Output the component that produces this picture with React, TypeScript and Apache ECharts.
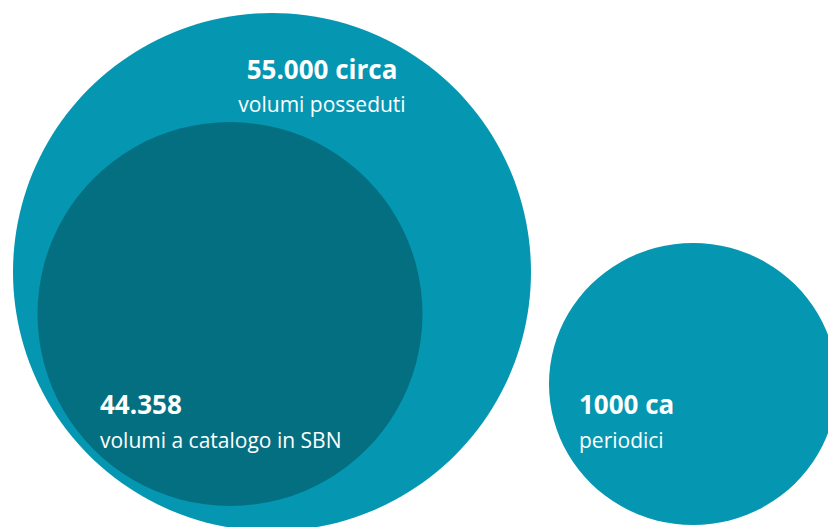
import React, { useEffect, useRef } from "react";
import * as echarts from "echarts";

// Data
const circleNames = ["volumi posseduti", "volumi a catalogo in SBN", "periodici"];
const circleValues = [55000, 44358, 1000];
const valueLabels = ["55.000 circa", "44.358", "1000 ca"];

// Layout (pixel-space of the 828x527 canvas)
const centersX = [272, 230, 693];
const centersY = [272, 314, 384];
const sizes: [number, number][] = [
  [518, 518],
  [385, 384],
  [288, 282],
];
const fills = ["#0597b2", "#046f81", "#0597b2"];
const labelPos = [
  { x: 322, y1: 69, y2: 104, align: "center" },
  { x: 100, y1: 404, y2: 440, align: "left" },
  { x: 579, y1: 404, y2: 440, align: "left" },
];

export default function App() {
  const ref = useRef<HTMLDivElement>(null);
  useEffect(() => {
    document.body.style.margin = "0";
    if (!ref.current) return;
    const chart = echarts.init(ref.current, undefined, { renderer: "svg" });
    const font = "'Open Sans', 'Noto Sans', sans-serif";
    const graphics: any[] = [];
    valueLabels.forEach((v, i) => {
      const p = labelPos[i];
      graphics.push({
        type: "text",
        x: p.x,
        y: p.y1,
        z: 10,
        style: {
          text: v,
          fill: "#ffffff",
          font: `bold 26px ${font}`,
          textAlign: p.align,
          textVerticalAlign: "middle",
        },
      });
      graphics.push({
        type: "text",
        x: p.x,
        y: p.y2,
        z: 10,
        style: {
          text: circleNames[i],
          fill: "#ffffff",
          font: `21px ${font}`,
          textAlign: p.align,
          textVerticalAlign: "middle",
        },
      });
    });
    chart.setOption({
      animation: false,
      backgroundColor: "#ffffff",
      grid: { left: 0, right: 0, top: 0, bottom: 0 },
      xAxis: { type: "value", min: 0, max: 828, show: false },
      yAxis: { type: "value", min: 0, max: 527, inverse: true, show: false },
      tooltip: { show: false },
      series: [
        {
          type: "scatter",
          symbol: "circle",
          silent: true,
          data: circleValues.map((val, i) => ({
            name: circleNames[i],
            value: [centersX[i], centersY[i], val],
            symbolSize: sizes[i],
            itemStyle: { color: fills[i], opacity: 1 },
          })),
        },
      ],
      graphic: graphics,
    });
    return () => chart.dispose();
  }, []);
  return <div ref={ref} style={{ width: 828, height: 527 }} />;
}
